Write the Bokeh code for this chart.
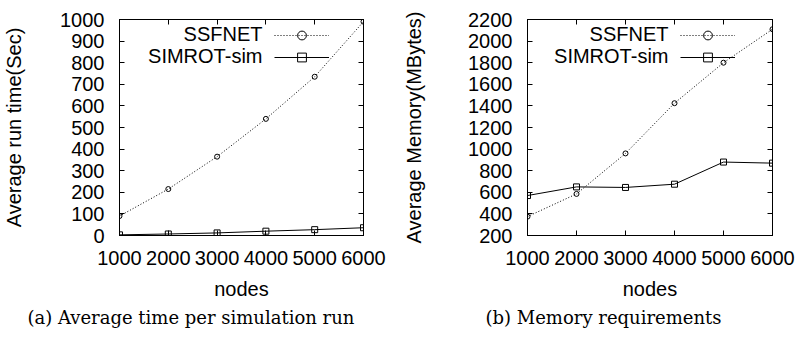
from bokeh.plotting import figure
from bokeh.models import (Range1d, LinearAxis, FixedTicker, Legend, LegendItem,
                          Title, Label, CustomJSTickFormatter)
from bokeh.layouts import row
from bokeh.embed import file_html
from bokeh.resources import INLINE

# Simulation results: SSFNET vs SIMROT-sim
nodes = [1000, 2000, 3000, 4000, 5000, 6000]
runtime_ssfnet = [90, 215, 365, 540, 735, 990]        # seconds
runtime_simrot = [3, 7, 12, 20, 27, 36]               # seconds
memory_ssfnet = [375, 585, 960, 1425, 1800, 2110]     # MBytes
memory_simrot = [570, 650, 645, 675, 880, 870]        # MBytes

series_names = ["SSFNET", "SIMROT-sim"]
x_ticks = [1000, 2000, 3000, 4000, 5000, 6000]
runtime_ticks = [0, 100, 200, 300, 400, 500, 600, 700, 800, 900, 1000]
memory_ticks = [200, 400, 600, 800, 1000, 1200, 1400, 1600, 1800, 2000, 2200]

SANS = "Liberation Sans"
SERIF = "DejaVu Serif"


def style_axis(ax, ticks, show_labels=True):
    ax.ticker = FixedTicker(ticks=ticks)
    ax.major_tick_in = 5
    ax.major_tick_out = 0
    ax.minor_tick_in = 0
    ax.minor_tick_out = 0
    ax.axis_line_color = "black"
    ax.major_tick_line_color = "black"
    if show_labels:
        ax.major_label_text_font = SANS
        ax.major_label_text_font_size = "20px"
        ax.major_label_text_color = "black"
        ax.axis_label_text_font = SANS
        ax.axis_label_text_font_size = "20px"
        ax.axis_label_text_font_style = "normal"
        ax.axis_label_text_color = "black"
    else:
        ax.formatter = CustomJSTickFormatter(code="return ''")
        ax.major_label_text_font_size = "1px"
        ax.major_label_standoff = 0


def make_panel(width, border_left, border_right, y_start, y_end, y_ticks,
               ylabel, ylabel_standoff, caption, caption_offset,
               ssfnet, simrot, legend_x):
    p = figure(width=width, height=337, output_backend="svg", toolbar_location=None,
               x_range=Range1d(1000, 6000), y_range=Range1d(y_start, y_end),
               min_border_left=border_left, min_border_right=border_right,
               min_border_top=19, min_border_bottom=102)
    p.grid.visible = False
    p.outline_line_color = "black"
    p.outline_line_width = 1
    p.outline_line_alpha = 1

    xa = p.xaxis[0]
    style_axis(xa, x_ticks)
    xa.major_label_standoff = 15
    xa.axis_label = "nodes"
    xa.axis_label_standoff = 10

    ya = p.yaxis[0]
    style_axis(ya, y_ticks)
    ya.major_label_standoff = 15
    ya.axis_label = ylabel
    ya.axis_label_standoff = ylabel_standoff

    # mirrored ticks on the top and right edges
    top = LinearAxis()
    style_axis(top, x_ticks, show_labels=False)
    p.add_layout(top, "above")
    right = LinearAxis()
    style_axis(right, y_ticks, show_labels=False)
    p.add_layout(right, "right")

    l1 = p.line(nodes, ssfnet, line_color="black", line_width=1, line_dash="1 2")
    m1 = p.scatter(nodes, ssfnet, marker="circle", size=5, fill_color=None,
                   line_color="black", line_width=1)
    l2 = p.line(nodes, simrot, line_color="black", line_width=1)
    m2 = p.scatter(nodes, simrot, marker="square", size=6, fill_color=None,
                   line_color="black", line_width=1)

    # gnuplot-style key: name on the left, line sample on the right
    legend = Legend(items=[LegendItem(label="", renderers=[l1, m1]),
                           LegendItem(label="", renderers=[l2, m2])],
                    location=(legend_x, 167), glyph_width=55, glyph_height=22,
                    label_height=22, label_width=0, label_standoff=0,
                    spacing=0, padding=0, margin=0,
                    border_line_color=None, background_fill_alpha=0)
    p.add_layout(legend)
    for name, y in zip(series_names, [202, 180]):
        p.add_layout(Label(x=legend_x - 12, y=y, x_units="screen", y_units="screen",
                           text=name, text_align="right", text_baseline="middle",
                           text_font=SANS, text_font_size="20px", text_color="black"))

    p.add_layout(Title(text=caption, align="left", offset=caption_offset,
                       text_font=SERIF, text_font_size="18px",
                       text_font_style="normal", text_color="black", standoff=5), "below")
    return p


p1 = make_panel(400, 117, 37, 0, 1000, runtime_ticks,
                "Average run time(Sec)", 32,
                "(a) Average time per simulation run", -92,
                runtime_ssfnet, runtime_simrot, 155)
p2 = make_panel(399, 125, 27, 200, 2200, memory_ticks,
                "Average Memory(MBytes)", 40,
                "(b) Memory requirements", -42,
                memory_ssfnet, memory_simrot, 153)

layout = row(p1, p2)
open("out.html", "w").write(file_html(layout, INLINE))
